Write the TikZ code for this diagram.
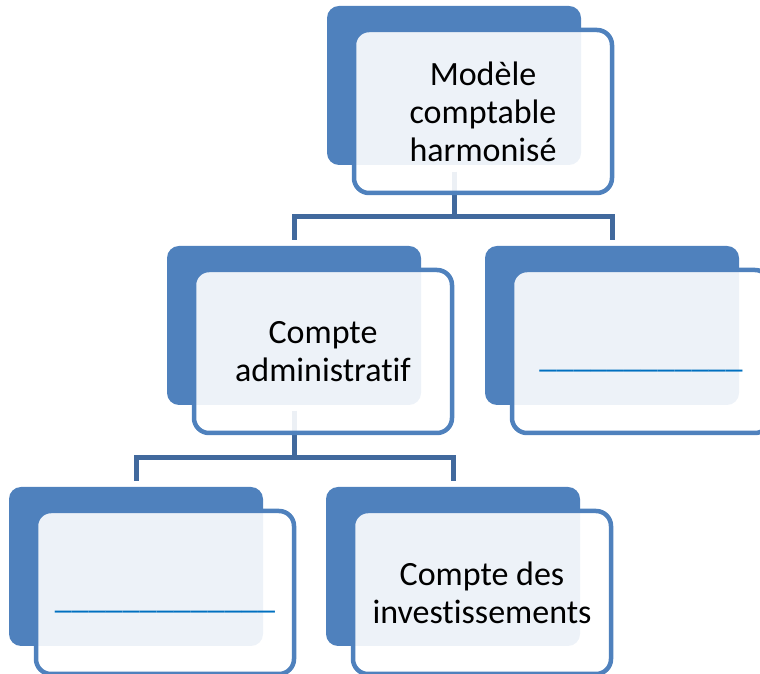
\documentclass[tikz,border=0pt]{standalone}
\usepackage{fontspec}
\setmainfont{Carlito}[Ligatures=NoCommon]
\usetikzlibrary{positioning}

\definecolor{BoxBlue}{HTML}{4F81BD}
\definecolor{LinkBlue}{HTML}{41699D}
\definecolor{BlankBlue}{HTML}{0070C0}

\newcommand{\blankline}[1]{\strut\raisebox{-8pt}[0pt][0pt]{\textcolor{BlankBlue}{#1}}}

\tikzset{
    BackBox/.style={rectangle, rounded corners=12pt, fill=BoxBlue, inner sep=0pt, outer sep=0pt,
        minimum width=254pt, minimum height=159pt, anchor=north west},
    FrontBox/.style={rectangle, rounded corners=15pt, draw=BoxBlue, line width=4.5pt,
        fill=white, fill opacity=0.9, text opacity=1, inner sep=0pt, outer sep=0pt,
        minimum width=258pt, minimum height=163pt, align=center,
        font=\fontsize{34}{38}\selectfont},
    Link/.style={draw=LinkBlue, line width=5pt},
}

\begin{document}
\begin{tikzpicture}[x=1pt, y=1pt]
    \useasboundingbox (0, 0) rectangle (760, 674);

    % back boxes
    \node[BackBox] (ModeleBack) at (327, 668) {};
    \node[BackBox] (AdminBack) at (167, 428) {};
    \node[BackBox] (RightBack) at (485, 428) {};
    \node[BackBox] (LeftBack) at (9, 187) {};
    \node[BackBox] (InvestBack) at (326, 187) {};

    % links
    \draw[Link] ([yshift=-7pt]ModeleBack.south) -- ++(0, -45) -| ([yshift=6pt]AdminBack.north);
    \draw[Link] ([yshift=-7pt]ModeleBack.south) -- ++(0, -45) -| ([yshift=6pt]RightBack.north);
    \draw[Link] ([yshift=-6pt]AdminBack.south) -- ++(0, -47) -| ([yshift=6pt]LeftBack.north);
    \draw[Link] ([yshift=-6pt]AdminBack.south) -- ++(0, -47) -| ([yshift=6pt]InvestBack.north);

    % front boxes
    \node[FrontBox, below right=24pt and 27pt of ModeleBack.north west] (Modele) {Modèle\\comptable\\harmonisé};
    \node[FrontBox, below right=24pt and 27pt of AdminBack.north west] (Admin) {Compte\\administratif};
    \node[FrontBox, below right=24pt and 27pt of RightBack.north west] (Right) {\blankline{\_\_\_\_\_\_\_\_\_\_\_\_}};
    \node[FrontBox, below right=24pt and 27pt of LeftBack.north west] (Left) {\blankline{\_\_\_\_\_\_\_\_\_\_\_\_\_}};
    \node[FrontBox, below right=24pt and 27pt of InvestBack.north west] (Invest) {Compte des\\investissements};
\end{tikzpicture}
\end{document}
